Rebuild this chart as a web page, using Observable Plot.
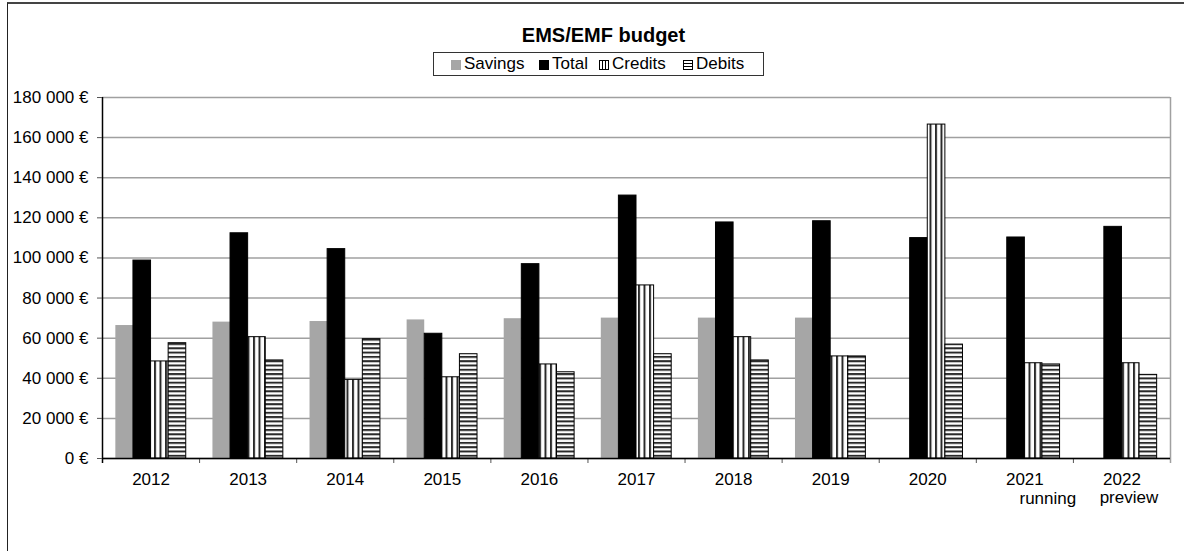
<!DOCTYPE html>
<html>
<head>
<meta charset="utf-8">
<script src="https://cdn.jsdelivr.net/npm/d3@7"></script>
<script src="https://cdn.jsdelivr.net/npm/@observablehq/plot@0.6"></script>
<style>
  body { margin: 0; background: #fff; font-family: "Liberation Sans", Arial, sans-serif; }
  #frame { position: absolute; left: 7px; top: 2px; width: 1176px; height: 620px;
           border-left: 1.5px solid #222; border-top: 2px solid #444; pointer-events: none; z-index: 5; }
  #title { position: absolute; left: 10px; width: 1187px; top: 23px; text-align: center;
           font-weight: bold; font-size: 20px; line-height: 24px; color: #000; }
  #legend { position: absolute; left: 433px; top: 52px; width: 329px; height: 22px;
            border: 1.5px solid #333; font-size: 17px; line-height: 22px; color: #000; }
  #legend .item { position: absolute; top: 0; white-space: nowrap; }
  #legend svg { vertical-align: -1px; margin-right: 3px; }
  #chart { position: absolute; left: 0; top: 85px; }
</style>
</head>
<body>
<div id="frame"></div>
<div id="title">EMS/EMF budget</div>
<div id="legend"></div>
<div id="chart"></div>
<script>
// ---- data ----
const years = ["2012","2013","2014","2015","2016","2017","2018","2019","2020","2021","2022"];
const notes = ["","","","","","","","","","running","preview"];
const seriesNames = ["Savings","Total","Credits","Debits"];
const savings = [66300, 68000, 68300, 69100, 69700, 70000, 70000, 70000, null, null, null];
const total   = [98700, 112300, 104400, 62200, 96900, 131100, 117700, 118300, 109900, 110200, 115500];
const credits = [48400, 60500, 39200, 40500, 46900, 86300, 60500, 50900, 166500, 47500, 47500];
const debits  = [57500, 48900, 59500, 52000, 43000, 52000, 48900, 50900, 56800, 46900, 41700];
const yTicks  = [0, 20000, 40000, 60000, 80000, 100000, 120000, 140000, 160000, 180000];

const seriesValues = {Savings: savings, Total: total, Credits: credits, Debits: debits};
const rows = seriesNames.flatMap(s => years.map((y, i) => ({year: y, series: s, value: seriesValues[s][i]})))
  .filter(d => d.value != null);
const noteRows = years.map((y, i) => ({year: y, note: notes[i]})).filter(d => d.note);

// ---- styles ----
const fills = {Savings: "#a6a6a6", Total: "#000", Credits: "url(#pat-credits)", Debits: "url(#pat-debits)"};
const strokes = {Savings: "none", Total: "#000", Credits: "#000", Debits: "#000"};
const gridColor = "#a0a0a0";

const W = 1187, H = 466, mL = 102, mR = 17, mT = 12, mB = 93;
const bw = (W - mL - mR) / years.length;
const barW = 17.6;
const off = (bw - seriesNames.length * barW) / 2;

const fmt = d => d3.format(",")(d).replace(/,/g, " ") + " €";

const svg = Plot.plot({
  width: W, height: H,
  marginLeft: mL, marginRight: mR, marginTop: mT, marginBottom: mB,
  style: {fontFamily: "'Liberation Sans', Arial, sans-serif", fontSize: "17px", background: "transparent", color: "#000", overflow: "visible"},
  x: {domain: years, padding: 0, round: false, axis: null, label: null},
  y: {domain: [0, 180000], axis: null, label: null},
  marks: [
    Plot.gridY(yTicks, {stroke: gridColor, strokeOpacity: 1, strokeWidth: 1.5}),
    Plot.ruleX([years[years.length - 1]], {dx: bw / 2, stroke: gridColor, strokeWidth: 1.5, insetBottom: -5}),
    ...seriesNames.map((s, k) => Plot.barY(rows.filter(d => d.series === s), {
      x: "year", y: "value", fill: fills[s], stroke: strokes[s], strokeWidth: 1,
      insetLeft: off + k * barW, insetRight: bw - off - (k + 1) * barW
    })),
    Plot.ruleX(years, {dx: -bw / 2, y1: 0, y2: 0, insetBottom: -5, stroke: "#555", strokeWidth: 1}),
    Plot.ruleX([years[0]], {dx: -bw / 2, stroke: "#000", strokeWidth: 1.5, insetBottom: -5}),
    Plot.ruleY([0], {stroke: "#000", strokeWidth: 1.5}),
    Plot.axisY(yTicks, {tickSize: 5, tickPadding: 9, tickFormat: fmt, stroke: "#555", fontSize: 17, label: null}),
    Plot.axisX({tickSize: 0, tickPadding: 14, fontSize: 17, label: null}),
    Plot.text(noteRows.filter(d => d.note === notes[9]), {x: "year", text: "note", frameAnchor: "bottom", lineAnchor: "top", dy: 33, dx: 23, fontSize: 17}),
    Plot.text(noteRows.filter(d => d.note === notes[10]), {x: "year", text: "note", frameAnchor: "bottom", lineAnchor: "top", dy: 32, dx: 7, fontSize: 17})
  ]
});

const NS = "http://www.w3.org/2000/svg";
const defs = document.createElementNS(NS, "defs");
defs.innerHTML = `
  <pattern id="pat-credits" patternUnits="userSpaceOnUse" width="5.5" height="10">
    <rect width="5.5" height="10" fill="#fff"/>
    <rect x="0" width="2" height="10" fill="#2a2a2a"/>
  </pattern>
  <pattern id="pat-debits" patternUnits="userSpaceOnUse" width="10" height="4.3">
    <rect width="10" height="4.3" fill="#fff"/>
    <rect y="0" width="10" height="2" fill="#2a2a2a"/>
  </pattern>`;
svg.insertBefore(defs, svg.firstChild);
document.getElementById("chart").appendChild(svg);

// ---- legend ----
const legend = document.getElementById("legend");
const itemLeft = [17, 105, 165, 249];
const swatch = {
  Savings: `<rect x="0" y="0" width="10" height="10" fill="#a6a6a6"/>`,
  Total: `<rect x="0.5" y="0.5" width="9" height="9" fill="#000" stroke="#000"/>`,
  Credits: `<rect x="0.5" y="0.5" width="9" height="9" fill="#fff" stroke="#000"/><line x1="3.5" y1="0" x2="3.5" y2="10" stroke="#000"/><line x1="6.5" y1="0" x2="6.5" y2="10" stroke="#000"/>`,
  Debits: `<rect x="0.5" y="0.5" width="9" height="9" fill="#fff" stroke="#000"/><line x1="0" y1="3.5" x2="10" y2="3.5" stroke="#000"/><line x1="0" y1="6.5" x2="10" y2="6.5" stroke="#000"/>`
};
seriesNames.forEach((s, k) => {
  const el = document.createElement("div");
  el.className = "item";
  el.style.left = itemLeft[k] + "px";
  el.innerHTML = `<svg width="10" height="10">${swatch[s]}</svg>${s}`;
  legend.appendChild(el);
});
</script>
</body>
</html>
